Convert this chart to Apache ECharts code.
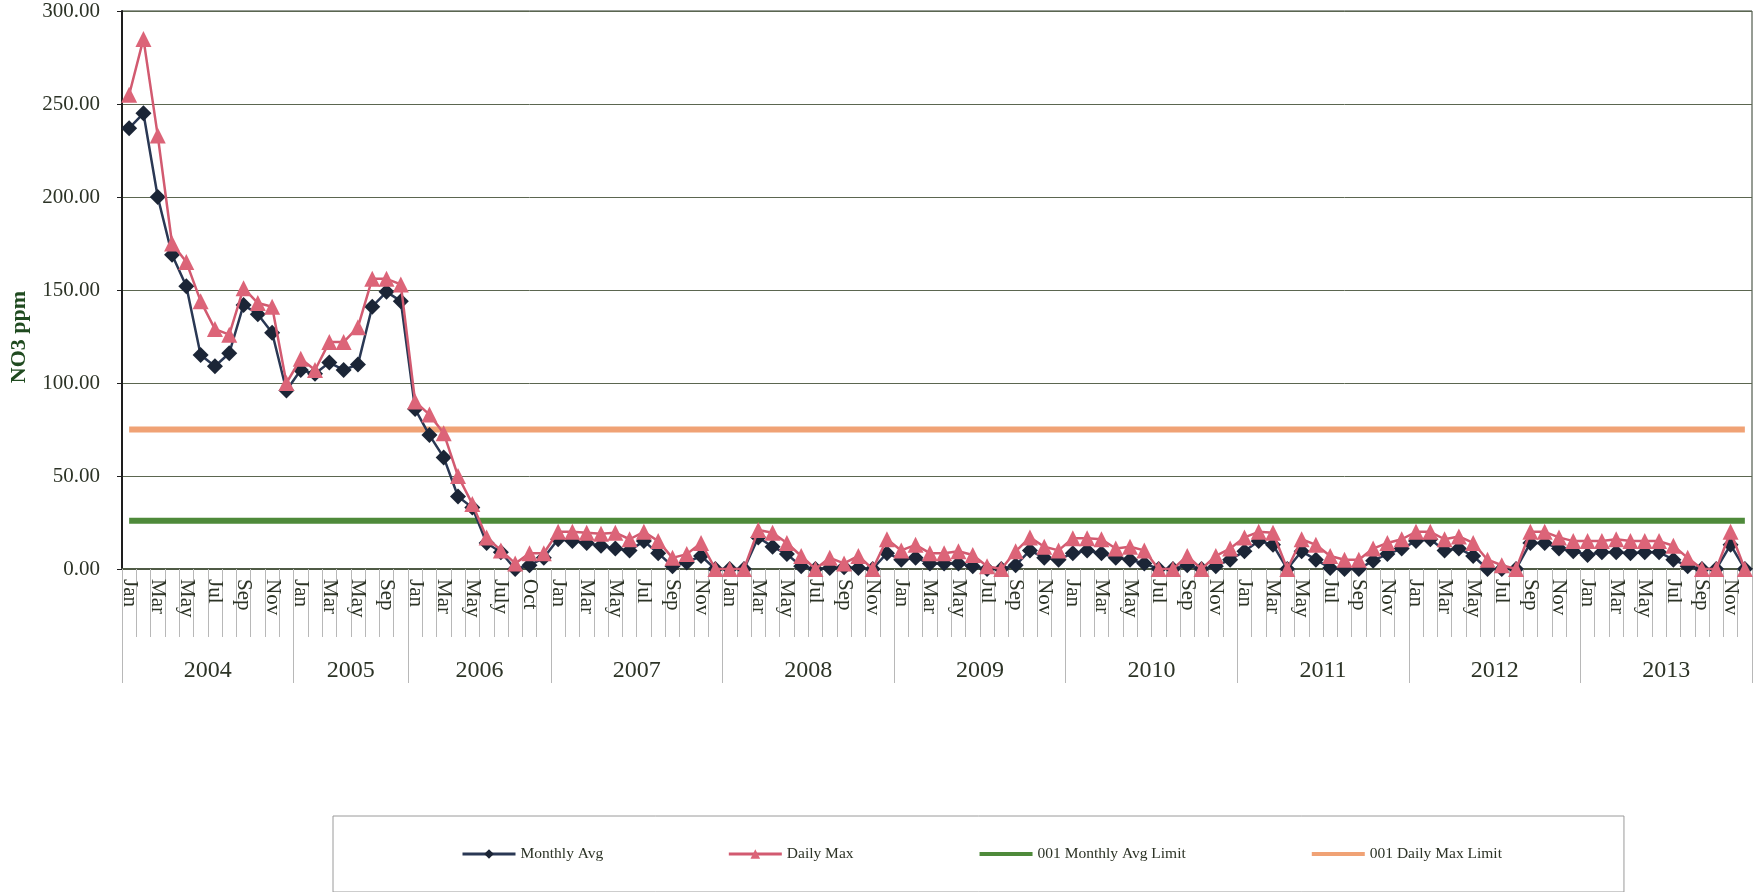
<!DOCTYPE html>
<html>
<head>
<meta charset="utf-8">
<script src="https://cdn.jsdelivr.net/npm/echarts@6/dist/echarts.min.js"></script>
<style>
html,body{margin:0;padding:0;background:#fff;}
#main{width:1761px;height:892px;}
</style>
</head>
<body>
<div id="main"></div>
<script>
// years and the months sampled in each of them
var years = ['2004','2005','2006','2007','2008','2009','2010','2011','2012','2013'];
var fullYear = ['Jan','Feb','Mar','Apr','May','Jun','Jul','Aug','Sep','Oct','Nov','Dec'];
var months2005 = ['Jan','Feb','Mar','Apr','May','Jun','Sep','Oct'];
var months2006 = ['Jan','Feb','Mar','Apr','May','Jun','July','Aug','Oct','Nov'];
var yearMonths = [fullYear, months2005, months2006, fullYear, fullYear, fullYear, fullYear, fullYear, fullYear, fullYear];

// NO3 ppm, one value per sampled month
var monthlyAvg = [
	237,245,200,169,152,115,109,116,142,137,127,96,
	107,105,111,107,110,141,149,144,
	86,72,60,39,33,14,9,0,2,6,
	16,15,14,12.5,11,10,15,8.5,1.5,3.5,7,0,
	0,0,17,12,8,1.5,0,0.5,1,0.5,0,8.5,
	5,6,3,3,3,1.5,0,0,2,10,6,5,
	8.5,10,8.5,6,5,3,0,0,2,0,1.5,5,
	9.5,15,13,0,9.5,5,0.5,0,0,4.5,8,11,
	15,16,10,11,7,0,0,0,14,14,11,9.5,
	7.5,9,9,8.5,9,9,5,1.5,0,0,13,0
];
var dailyMax = [
	255,285,233,175,165,144,129,126,151,143,141,100,
	113,107,122,122,130,156,156,153,
	90,83,73,50,35,17,10,3,8.5,8.5,
	20,20,19.5,19,19.5,16,20,15,6,8,14,0,
	0,0,21,19.5,14,7,0,6,3,7,0,16,
	10,13,8.5,8.5,9.5,7.5,1.5,0,9.5,17,12,10,
	16.5,16.5,16,11,12,10,0,0,7,0,7,11,
	17,20,19.5,0,16,13,7,5,5,11,14,16,
	20,20,16,17.5,14,5,2,0,20,20,17,15,
	15,15,16,15,15,15,12.5,6,0,0,20,0
];
var monthlyAvgLimit = 26;
var dailyMaxLimit = 75;
var yTicks = [0,50,100,150,200,250,300];

var FONT = '"Liberation Serif","Times New Roman",serif';
var TXT = '#2c3326';

function buildAxis(){
	var cats=[], bounds=[0], centers=[], pos=0;
	for(var i=0;i<yearMonths.length;i++){
		var m=yearMonths[i];
		for(var j=0;j<m.length;j++){
			cats.push(m[j]);
		}
		centers.push(pos+m.length/2);
		pos+=m.length;
		bounds.push(pos);
	}
	return {cats:cats, bounds:bounds, centers:centers, total:pos};
}

function constLine(v,n){
	var d=[];
	for(var i=0;i<n;i++){
		d.push(v);
	}
	return d;
}

var ax = buildAxis();
var chart = echarts.init(document.getElementById('main'));

var option = {
	backgroundColor:'#fff',
	animation:false,
	grid:{
		left:118, right:9, top:11, bottom:323,
		show:true, borderColor:'#2f3a2a', borderWidth:1
	},
	legend:{
		left:333, top:816,
		padding:[30,122,30,128],
		itemGap:124, itemWidth:53, itemHeight:12,
		borderColor:'#9a9a9a', borderWidth:1,
		textStyle:{fontFamily:FONT, fontSize:15.5, color:TXT},
		data:[
			{name:'Monthly Avg', lineStyle:{width:3}},
			{name:'Daily Max', lineStyle:{width:3}},
			{name:'001 Monthly Avg Limit', itemStyle:{opacity:0}, lineStyle:{width:4}},
			{name:'001 Daily Max Limit', itemStyle:{opacity:0}, lineStyle:{width:4}}
		]
	},
	xAxis:[
		{
			type:'category',
			data:ax.cats,
			boundaryGap:true,
			axisLine:{lineStyle:{color:'#4f5a45', width:2}},
			axisTick:{show:true, interval:0, length:68, lineStyle:{color:'#b8b8b8'}},
			axisLabel:{
				interval:1, rotate:-90, margin:10,
				fontFamily:FONT, fontSize:21, color:TXT
			},
			splitLine:{show:false}
		},
		{
			type:'value',
			position:'bottom',
			min:0, max:ax.total,
			axisLine:{show:false},
			splitLine:{show:false},
			axisTick:{show:true, length:114, customValues:ax.bounds, lineStyle:{color:'#b8b8b8'}},
			axisLabel:{
				customValues:ax.centers, margin:90,
				fontFamily:FONT, fontSize:24, color:TXT,
				formatter:function(v){
					var k=ax.centers.indexOf(v);
					return k>=0 ? years[k] : '';
				}
			}
		}
	],
	yAxis:{
		type:'value',
		min:yTicks[0], max:yTicks[yTicks.length-1], interval:50,
		name:'NO3 ppm',
		nameLocation:'middle', nameGap:92, nameRotate:90,
		nameTextStyle:{fontFamily:FONT, fontSize:22, fontWeight:'bold', color:'#1f4a1f', padding:[0,94,0,0]},
		axisLine:{show:true, lineStyle:{color:'#1e1e1e', width:2}},
		axisTick:{show:true, length:5, lineStyle:{color:'#1e1e1e'}},
		axisLabel:{
			margin:22, fontFamily:FONT, fontSize:21, color:TXT,
			formatter:function(v){return v.toFixed(2);}
		},
		splitLine:{lineStyle:{color:'#5b6650', width:1}}
	},
	series:[
		{
			name:'001 Monthly Avg Limit',
			type:'line',
			data:constLine(monthlyAvgLimit, ax.total),
			symbol:'none',
			z:1,
			lineStyle:{color:'#4e8a3a', width:6},
			itemStyle:{color:'#4e8a3a'}
		},
		{
			name:'001 Daily Max Limit',
			type:'line',
			data:constLine(dailyMaxLimit, ax.total),
			symbol:'none',
			z:1,
			lineStyle:{color:'#f0a275', width:6},
			itemStyle:{color:'#f0a275'}
		},
		{
			name:'Monthly Avg',
			type:'line',
			data:monthlyAvg,
			symbol:'diamond',
			symbolSize:16,
			showAllSymbol:true,
			z:3,
			lineStyle:{color:'#2a3854', width:2.5},
			itemStyle:{color:'#1b2536'}
		},
		{
			name:'Daily Max',
			type:'line',
			data:dailyMax,
			symbol:'triangle',
			symbolSize:16,
			showAllSymbol:true,
			z:4,
			lineStyle:{color:'#d25a70', width:2.5},
			itemStyle:{color:'#dc6478'}
		}
	]
};
chart.setOption(option);
</script>
</body>
</html>
